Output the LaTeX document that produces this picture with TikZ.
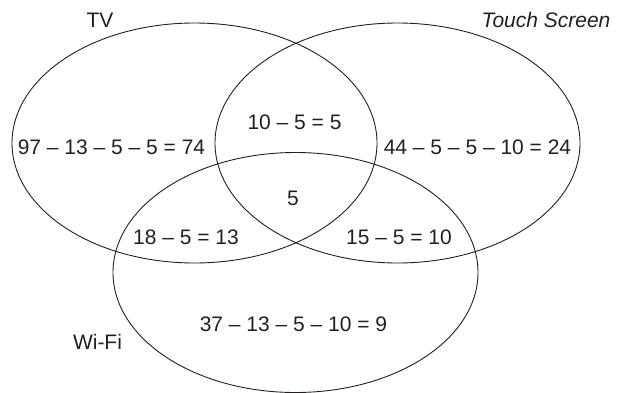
\documentclass[tikz,border=0pt]{standalone}
\usepackage{fontspec}
\setmainfont{Liberation Sans}
\usetikzlibrary{shapes.geometric}
\definecolor{ink}{HTML}{231F20}
\begin{document}
\begin{tikzpicture}[x=1pt,y=-1pt,
  setshape/.style={draw=ink,line width=0.9pt,ellipse,minimum width=365pt,minimum height=240pt,inner sep=0pt},
  lbl/.style={text=ink,inner sep=0pt,font=\fontsize{21}{25}\selectfont}]
\useasboundingbox (0,0) rectangle (634,393);
\node[setshape] (tv) at (194.5,143) {};
\node[setshape] (ts) at (397.5,143) {};
\node[setshape] (wifi) at (295.5,272.5) {};
\node[lbl] (tvl) at (100,20.5) {TV};
\node[lbl,font=\fontsize{21}{25}\selectfont\itshape] (tsl) at (546,20) {Touch Screen};
\node[lbl] (wfl) at (97.5,341.5) {Wi-Fi};
\node[lbl] (a) at (111.5,147) {97 – 13 – 5 – 5 = 74};
\node[lbl] (b) at (294.5,122.5) {10 – 5 = 5};
\node[lbl] (c) at (477.5,147) {44 – 5 – 5 – 10 = 24};
\node[lbl] (d) at (293,198) {5};
\node[lbl] (e) at (186,237) {18 – 5 = 13};
\node[lbl] (f) at (399,237) {15 – 5 = 10};
\node[lbl] (g) at (293.5,324.5) {37 – 13 – 5 – 10 = 9};
\end{tikzpicture}
\end{document}
